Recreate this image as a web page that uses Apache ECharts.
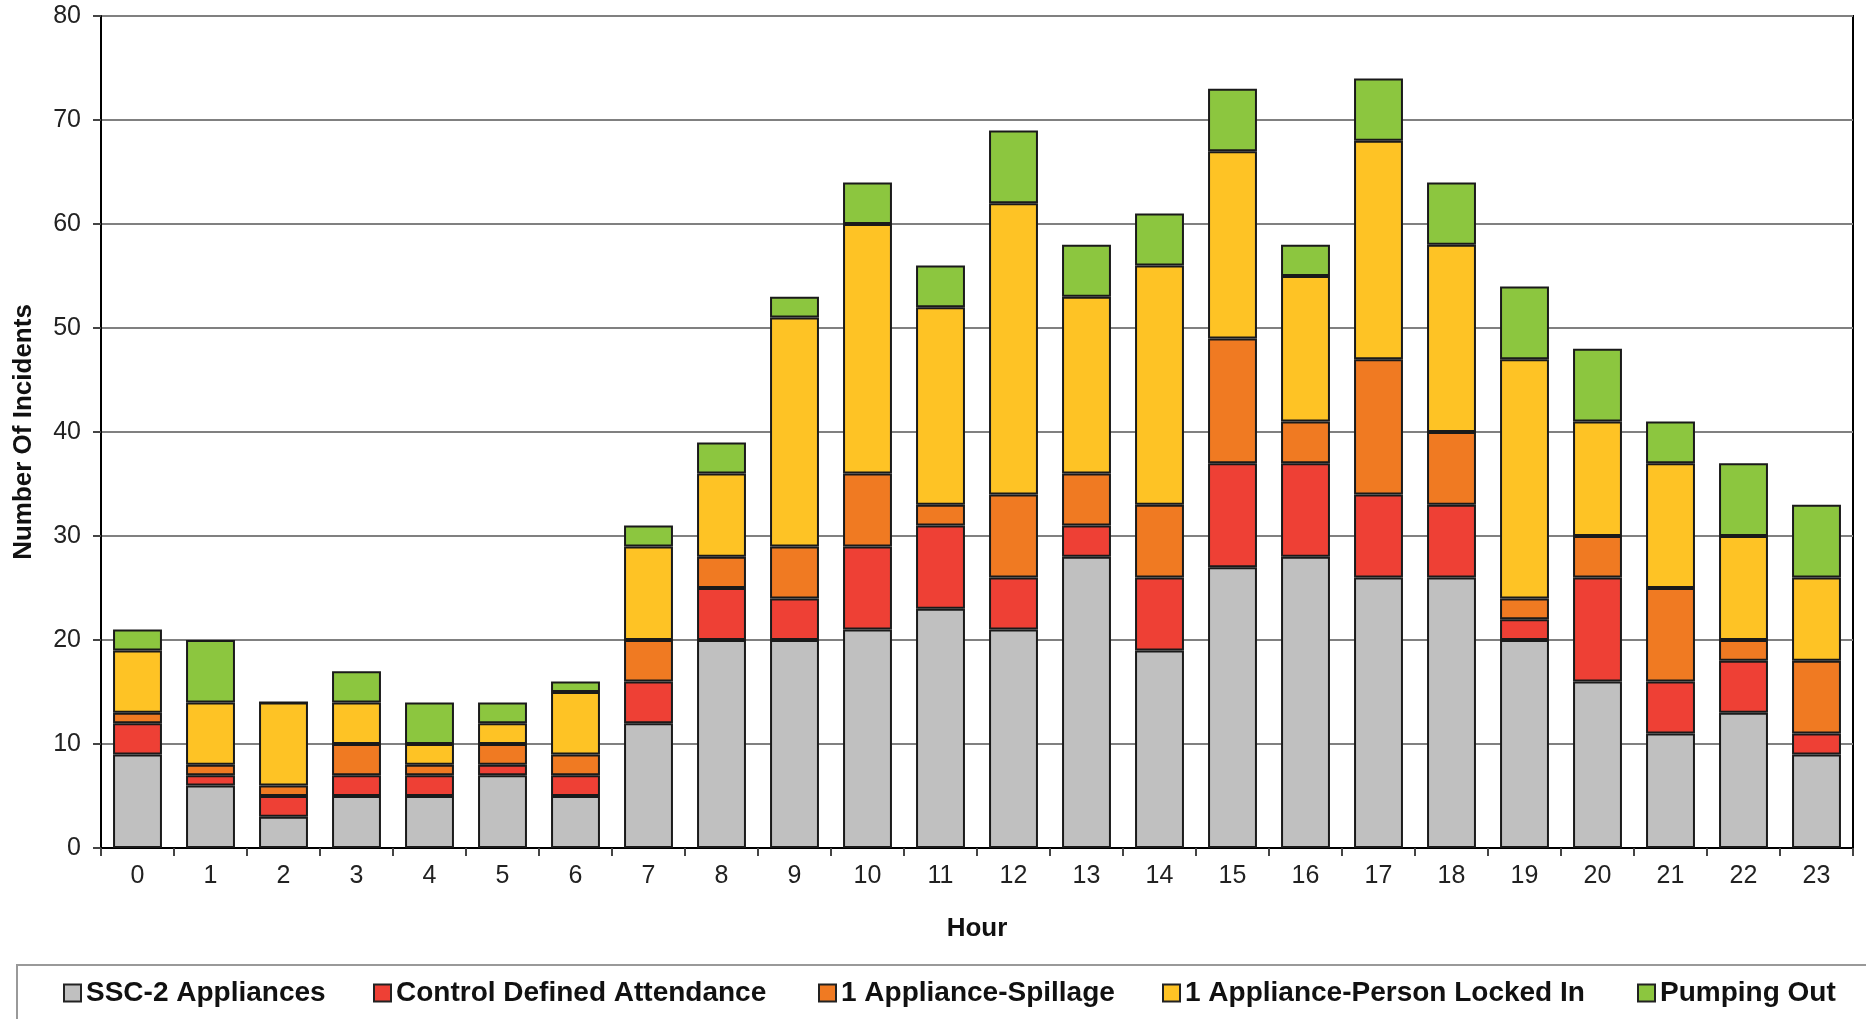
<!DOCTYPE html>
<html>
<head>
<meta charset="utf-8">
<script src="https://cdn.jsdelivr.net/npm/echarts@6/dist/echarts.min.js"></script>
<style>
html,body{margin:0;padding:0;background:#fff;}
#chart{width:1866px;height:1019px;}
</style>
</head>
<body>
<div id="chart"></div>
<script>
const hours = ['0','1','2','3','4','5','6','7','8','9','10','11','12','13','14','15','16','17','18','19','20','21','22','23'];
const yTicks = [0,10,20,30,40,50,60,70,80];
const seriesNames = ['SSC-2 Appliances','Control Defined Attendance','1 Appliance-Spillage','1 Appliance-Person Locked In','Pumping Out'];
const ssc2Appliances      = [9,6,3,5,5,7,5,12,20,20,21,23,21,28,19,27,28,26,26,20,16,11,13,9];
const controlDefined      = [3,1,2,2,2,1,2,4,5,4,8,8,5,3,7,10,9,8,7,2,10,5,5,2];
const applianceSpillage   = [1,1,1,3,1,2,2,4,3,5,7,2,8,5,7,12,4,13,7,2,4,9,2,7];
const personLockedIn      = [6,6,8,4,2,2,6,9,8,22,24,19,28,17,23,18,14,21,18,23,11,12,10,8];
const pumpingOut          = [2,6,0,3,4,2,1,2,3,2,4,4,7,5,5,6,3,6,6,7,7,4,7,7];
const colors = ['#C0C0C0','#EE4035','#F07A22','#FEC325','#8CC63F'];

const seriesData = [ssc2Appliances, controlDefined, applianceSpillage, personLockedIn, pumpingOut];
const legendLefts = [63, 373, 818, 1162, 1637];

const FONT = '"Liberation Sans", Arial, Helvetica, sans-serif';

const chart = echarts.init(document.getElementById('chart'), null, {renderer:'canvas'});
const option = {
  animation: false,
  backgroundColor: '#fff',
  textStyle: {fontFamily: FONT},
  grid: {left: 101, right: 13, top: 16, bottom: 171, show: true, borderColor: '#000', borderWidth: 2,
         containLabel: false, outerBoundsMode: 'none'},
  legend: seriesNames.map((n, i) => ({
    data: [n],
    left: legendLefts[i],
    top: 979,
    padding: 0,
    itemWidth: 17,
    itemHeight: 17,
    icon: 'rect',
    itemStyle: {borderColor: '#222', borderWidth: 2},
    textStyle: {fontSize: 28, fontWeight: 'bold', color: '#111', fontFamily: FONT},
    selectedMode: false
  })),
  xAxis: {
    type: 'category',
    data: hours,
    name: 'Hour',
    nameLocation: 'middle',
    nameGap: 68,
    nameTextStyle: {fontSize: 26, fontWeight: 'bold', color: '#111', fontFamily: FONT},
    axisLine: {lineStyle: {color: '#000', width: 2}},
    axisTick: {show: true, interval: 0, alignWithLabel: false, length: 8, lineStyle: {color: '#444', width: 2}},
    axisLabel: {interval: 0, fontSize: 25, color: '#222', margin: 16, fontFamily: FONT}
  },
  yAxis: {
    type: 'value',
    min: 0, max: 80, interval: 10,
    name: 'Number Of Incidents',
    nameLocation: 'middle',
    nameGap: 64,
    nameRotate: 90,
    nameTextStyle: {fontSize: 26, fontWeight: 'bold', color: '#111', fontFamily: FONT},
    axisLine: {show: true, lineStyle: {color: '#000', width: 2}},
    axisTick: {show: true, length: 8, lineStyle: {color: '#444', width: 2}},
    axisLabel: {fontSize: 25, color: '#222', margin: 20, fontFamily: FONT,
      formatter: v => (yTicks.indexOf(v) >= 0 ? String(v) : '')},
    splitLine: {show: true, lineStyle: {color: '#808080', width: 2}}
  },
  series: seriesNames.map((n, i) => ({
    name: n,
    type: 'bar',
    stack: 'total',
    barWidth: '67%',
    data: seriesData[i],
    itemStyle: {color: colors[i], borderColor: '#1a1a1a', borderWidth: 2}
  })),
  graphic: [{
    type: 'rect',
    shape: {x: 17, y: 965, width: 1870, height: 70},
    style: {fill: 'none', stroke: '#999', lineWidth: 2},
    silent: true,
    z: -1
  }]
};
chart.setOption(option);
</script>
</body>
</html>
